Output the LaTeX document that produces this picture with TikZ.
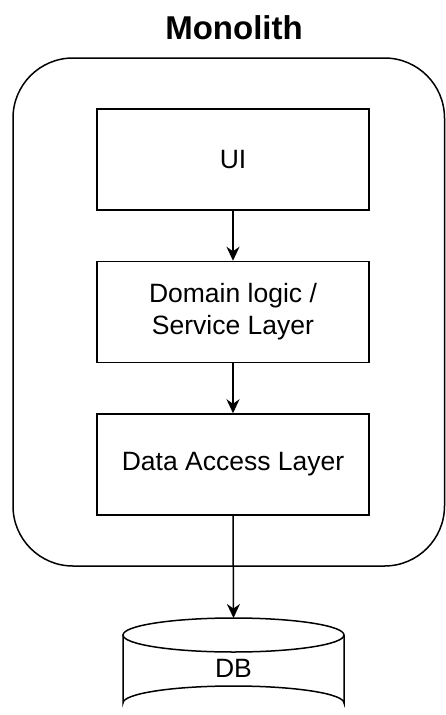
\documentclass[tikz,border=0pt]{standalone}
\usepackage{fontspec}
\setmainfont{Liberation Sans}
\usetikzlibrary{arrows.meta}
\begin{document}
\begin{tikzpicture}[x=1pt,y=-1pt,
  line width=1.5pt,
  layer/.style={draw, minimum width=272pt, minimum height=101pt, inner sep=0pt,
    align=center, font=\fontsize{26.5}{32}\selectfont},
  flow/.style={-{Stealth[length=14pt,width=13pt,inset=4.5pt]}}]
\useasboundingbox (0,0) rectangle (446,715);
\clip (0,0) rectangle (446,715);

% container of the monolith and its title
\node[font=\bfseries\fontsize{33}{40}\selectfont] (title) at (234,28) {Monolith};
\draw[rounded corners=60pt] (13,58) rectangle (444.5,566);

% the three layers
\node[layer] (ui) at (233,159.5) {UI};
\node[layer] (dom) at (233,312) {Domain logic /\\Service Layer};
\node[layer] (dal) at (233,464.5) {Data Access Layer};

% database cylinder
\coordinate (dbtop) at (233.5,618);
\draw (123,635) arc[start angle=180, end angle=360, x radius=110.5, y radius=17]
      arc[start angle=0, end angle=180, x radius=110.5, y radius=17] -- cycle;
\draw (123,635) -- (123,703)
      arc[start angle=180, end angle=0, x radius=110.5, y radius=-17]
      -- (344,635);
\node[font=\fontsize{26.5}{32}\selectfont] (db) at (233.5,668) {DB};

% calls between the layers
\draw[flow] (ui.south) -- (dom.north);
\draw[flow] (dom.south) -- (dal.north);
\draw[flow] (dal.south) -- (dbtop);
\end{tikzpicture}
\end{document}
